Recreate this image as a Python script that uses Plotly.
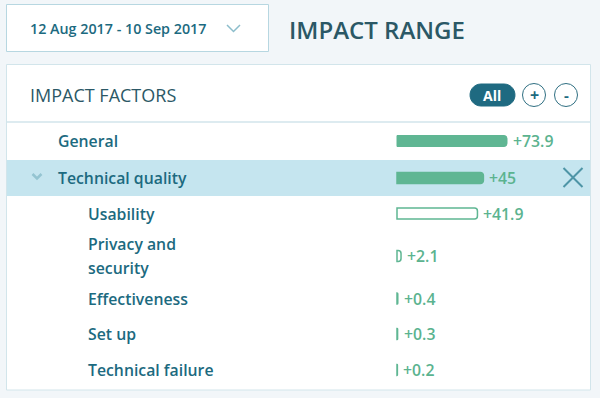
import plotly.graph_objects as go
import numpy as np

# ---------------- data ----------------
date_range = "12 Aug 2017 - 10 Sep 2017"
title_text = "IMPACT RANGE"
panel_title = "IMPACT FACTORS"

factor_labels = ["General", "Technical quality", "Usability", "Privacy and<br>security",
                 "Effectiveness", "Set up", "Technical failure"]
factor_values = [73.9, 45, 41.9, 2.1, 0.4, 0.3, 0.2]
factor_level = [0, 0, 1, 1, 1, 1, 1]          # 0 = top-level, 1 = sub factor
value_labels = ["+73.9", "+45", "+41.9", "+2.1", "+0.4", "+0.3", "+0.2"]

# ---------------- layout helpers ----------------
W, H = 600, 398
FONT = "Open Sans"
TEAL = "#1c6a80"
DARK = "#2b5866"
GREEN = "#5fb693"
VALUE_GREEN = "#5bb38f"
BORDER = "#d2e5eb"

row_heights = [38, 36, 35, 50, 35, 36, 36]
row_top0 = 122
tops = row_top0 + np.concatenate([[0], np.cumsum(row_heights)[:-1]])
centers = tops + np.array(row_heights) / 2.0

def px(x):
    return x / W

bar_start = 397
dom_start = 385
bar_end_area = 590
top_scale = 1.4885   # px per unit, top-level "General" scale
sub_scale = 1.92     # px per unit, technical-quality scale

fig = go.Figure()

idx_general = [0]
idx_tech = [1, 2, 3, 4, 5, 6]

fig.add_trace(go.Bar(
    x=[factor_values[i] for i in idx_general],
    y=[centers[i] for i in idx_general],
    orientation="h", width=11,
    marker=dict(color=GREEN, line=dict(color=GREEN, width=1), cornerradius=3),
    xaxis="x", yaxis="y", hoverinfo="skip", showlegend=False,
))
fill_cols = [GREEN if factor_level[i] == 0 else "white" for i in idx_tech]
fig.add_trace(go.Bar(
    x=[factor_values[i] for i in idx_tech],
    y=[centers[i] for i in idx_tech],
    orientation="h", width=11,
    marker=dict(color=fill_cols, line=dict(color=GREEN, width=1.5), cornerradius=3),
    xaxis="x2", yaxis="y", hoverinfo="skip", showlegend=False,
))

dom = [px(dom_start), px(bar_end_area)]
fig.update_layout(
    width=W, height=H,
    margin=dict(l=0, r=0, t=0, b=0),
    paper_bgcolor="#f2f6f9",
    plot_bgcolor="rgba(0,0,0,0)",
    barmode="overlay",
    xaxis=dict(domain=dom, range=[-(bar_start - dom_start) / top_scale, (bar_end_area - bar_start) / top_scale],
               visible=False, fixedrange=True),
    xaxis2=dict(domain=dom, range=[-(bar_start - dom_start) / sub_scale, (bar_end_area - bar_start) / sub_scale],
                visible=False, fixedrange=True, overlaying="x"),
    yaxis=dict(domain=[0, 1], range=[H, 0], visible=False, fixedrange=True),
    font=dict(family=FONT, color=TEAL),
)

shapes = []
shapes.append(dict(type="rect", xref="paper", yref="y", x0=px(6.5), x1=px(590.5), y0=64.5, y1=390,
                   fillcolor="white", line=dict(color=BORDER, width=1), layer="below"))
shapes.append(dict(type="rect", xref="paper", yref="y", x0=px(6.5), x1=px(268.5), y0=4.5, y1=51.5,
                   fillcolor="white", line=dict(color="#b7d7e1", width=1), layer="below"))
shapes.append(dict(type="line", xref="paper", yref="y", x0=px(7), x1=px(590), y0=122, y1=122,
                   line=dict(color=BORDER, width=1.5), layer="below"))
shapes.append(dict(type="rect", xref="paper", yref="y", x0=px(7), x1=px(590), y0=tops[1], y1=tops[1] + row_heights[1],
                   fillcolor="#c5e5ef", line=dict(width=0), layer="below"))

shapes.append(dict(type="path", xref="paper", yref="y",
                   path=f"M {px(227)},25 L {px(233.5)},31.5 L {px(240)},25",
                   line=dict(color="#8cbdcb", width=1.5)))
shapes.append(dict(type="path", xref="paper", yref="y",
                   path=f"M {px(32.5)},174 L {px(37)},178.5 L {px(41.5)},174",
                   line=dict(color="#94c4d1", width=2.5)))
cx, cy, r = 573, 177.5, 9.5
shapes.append(dict(type="line", xref="paper", yref="y", x0=px(cx - r), x1=px(cx + r), y0=cy - r, y1=cy + r,
                   line=dict(color="#4e95a6", width=2)))
shapes.append(dict(type="line", xref="paper", yref="y", x0=px(cx - r), x1=px(cx + r), y0=cy + r, y1=cy - r,
                   line=dict(color="#4e95a6", width=2)))

def pill_path(x0, x1, y0, y1):
    rr = (y1 - y0) / 2
    pts = []
    for a in np.linspace(np.pi / 2, 3 * np.pi / 2, 14):
        pts.append((x0 + rr + rr * np.cos(a), (y0 + y1) / 2 - rr * np.sin(a)))
    for a in np.linspace(-np.pi / 2, np.pi / 2, 14):
        pts.append((x1 - rr + rr * np.cos(a), (y0 + y1) / 2 - rr * np.sin(a)))
    return "M " + " L ".join(f"{px(x)},{y}" for x, y in pts) + " Z"

shapes.append(dict(type="path", xref="paper", yref="y", path=pill_path(470, 515, 84, 106),
                   fillcolor="#1f6a81", line=dict(color="#1f6a81", width=1)))
for ccx in (534, 566):
    shapes.append(dict(type="circle", xref="paper", yref="y", x0=px(ccx - 11.5), x1=px(ccx + 11.5),
                       y0=95 - 11.5, y1=95 + 11.5, fillcolor="white",
                       line=dict(color="#2f6f82", width=1)))

annotations = []
def txt(x, y, s, size, color=TEAL, weight=600, anchor="left"):
    annotations.append(dict(xref="paper", yref="y", x=px(x), y=y, text=s, showarrow=False,
                            xanchor=anchor, yanchor="middle",
                            font=dict(family=FONT, size=size, color=color, weight=weight)))

txt(28, 28, date_range, 14.3, TEAL, 600)
txt(287, 29, title_text, 24, DARK, 600)
txt(28, 95, panel_title, 18, DARK, 500)
txt(492, 95, "All", 14, "white", 700, "center")
txt(534, 95, "+", 16, TEAL, 700, "center")
txt(566, 95, "-", 15, TEAL, 700, "center")

line_gap = 24
for i, lab in enumerate(factor_labels):
    x0 = 56 if factor_level[i] == 0 else 86
    parts = lab.split("<br>")
    n = len(parts)
    for k, part in enumerate(parts):
        yy = centers[i] + (k - (n - 1) / 2) * line_gap
        annotations.append(dict(xref="paper", yref="y", x=px(x0), y=yy, text=part, showarrow=False,
                                xanchor="left", yanchor="middle", align="left",
                                font=dict(family=FONT, size=15.8, color=TEAL, weight=600)))
    axis = "x" if i in idx_general else "x2"
    annotations.append(dict(xref=axis, yref="y", x=factor_values[i], y=centers[i], text=value_labels[i],
                            showarrow=False, xanchor="left", yanchor="middle", xshift=4,
                            font=dict(family=FONT, size=15.8, color=VALUE_GREEN, weight=600)))

fig.update_layout(shapes=shapes, annotations=annotations)
fig.write_html("out.html", config={"displayModeBar": False},
               post_script="document.body.style.margin='0';")
